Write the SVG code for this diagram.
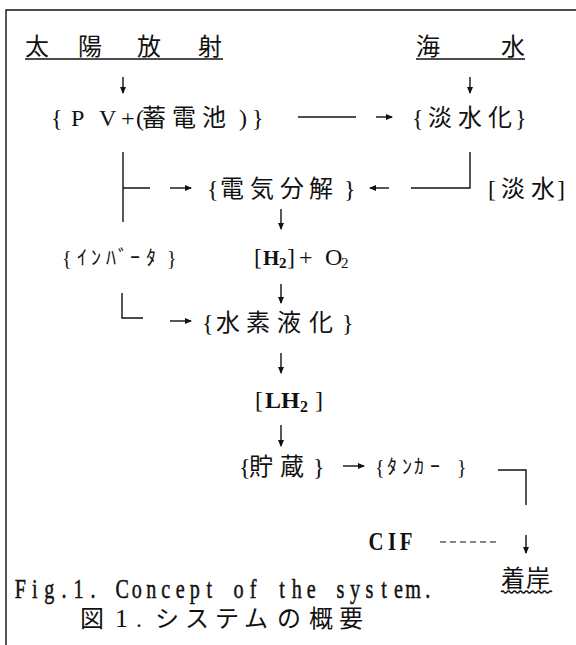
<svg xmlns="http://www.w3.org/2000/svg" width="576" height="645" viewBox="0 0 576 645">
<style>
.t{font-family:"Liberation Serif","Noto Sans CJK JP",serif;font-size:24px;fill:#111}
.h{font-family:"Liberation Serif","Noto Sans CJK JP",serif;font-size:20px;fill:#111}
.k{font-family:"Noto Sans CJK JP",sans-serif;font-size:24px;fill:#111}
.c{font-family:"Liberation Serif",serif;fill:#111;text-anchor:middle}
.b{font-weight:bold}
.ln{stroke:#111;stroke-width:1.4;fill:none}
.ar{stroke:#111;stroke-width:1.4;fill:none;marker-end:url(#ah)}
.ds{stroke:#111;stroke-width:1.2;fill:none;stroke-dasharray:6 4}
</style>
<defs>
<marker id="ah" markerWidth="8" markerHeight="8" refX="6" refY="4" orient="auto" markerUnits="userSpaceOnUse">
<path d="M0,1 L7,4 L0,7 Z" fill="#111"/>
</marker>
</defs>
<rect width="576" height="645" fill="#fff"/>
<g id="frame"><path class="ln" d="M6,645 V10 H576" stroke-width="1.6"/></g>

<g id="solar">
<text class="k" x="25 78 137 198" y="55">太陽放射</text>
<path class="ln" d="M25,59 H223"/>
</g>
<g id="seawater">
<text class="k" x="416 501" y="55">海水</text>
<path class="ln" d="M416,59 H525"/>
</g>
<g id="pv"><text class="t" x="51 71 99 121 136 142 172 202 239 252" y="126">{PV+(蓄電池)}</text></g>
<g id="desalination"><text class="t" x="412 428 458 488 515" y="126">{淡水化}</text></g>
<g id="electrolysis"><text class="t" x="207 220 250 280 309 344" y="197">{電気分解}</text></g>
<g id="freshwater"><text class="t" x="488 501 531 557" y="197">[淡水]</text></g>
<g id="inverter"><text class="h" x="62 77 91 106 118 130 146 167" y="265">{ｲﾝﾊﾞｰﾀ}</text></g>
<g id="h2o2"><text class="t" y="265"><tspan x="254">[</tspan><tspan x="263" class="b" font-size="21">H</tspan><tspan x="279" y="268" font-size="15" class="b">2</tspan><tspan x="287" y="265">]</tspan><tspan x="299">+</tspan><tspan x="325">O</tspan><tspan x="341" y="268" font-size="15">2</tspan></text></g>
<g id="liquefaction"><text class="t" x="202 216 246 277 309 342" y="331">{水素液化}</text></g>
<g id="lh2"><text class="t" y="408"><tspan x="255">[</tspan><tspan x="265" class="b">L</tspan><tspan x="281" class="b">H</tspan><tspan x="300" y="412" font-size="16" class="b">2</tspan><tspan x="315" y="408">]</tspan></text></g>
<g id="storage"><text class="t" x="239 249 280 313" y="475">{貯蔵}</text></g>
<g id="tanker"><text class="h" x="375 387 402 414 430 457" y="474">{ﾀﾝｶｰ}</text></g>
<g id="cif"><text class="c b" transform="translate(0,550) scale(0.8,1)" x="470 490 507.5" y="0" font-size="26">CIF</text></g>
<g id="landing">
<text class="k" x="501 526" y="587" font-size="25">着岸</text>
<path class="ln" stroke-width="1" d="M501,592 q1.5,-2 3,0 t3,0 t3,0 t3,0 t3,0 t3,0 t3,0 t3,0 t3,0 t3,0 t3,0 t3,0 t3,0 t3,0 t3,0 t3,0 t3,0"/>
</g>
<g id="caption">
<text class="c" transform="translate(13,598) scale(0.72,1)" font-size="28" stroke="#111" stroke-width="0.5" y="0" x="10.10 30.31 50.52 70.73 90.94 111.15 131.35 151.56 171.77 191.98 212.19 232.40 252.60 272.81 293.02 313.23 333.44 353.65 373.85 394.06 414.27 434.48 454.69 474.90 495.10 515.31 535.52 555.73 575.94">Fig.1. Concept of the system.</text>
<text class="t" y="627"><tspan x="80">図</tspan><tspan x="115" font-size="26">1</tspan><tspan x="136">.</tspan><tspan x="155 185 215 244 277 309 339">システムの概要</tspan></text>
</g>

<g id="connectors">
<path class="ar" d="M123,77 V93"/>
<path class="ar" d="M470,77 V93"/>
<path class="ln" d="M298,117 H356"/>
<path class="ar" d="M376,117 H392"/>
<path class="ln" d="M123,152 V222 M123,188 H150"/>
<path class="ar" d="M170,188 H191"/>
<path class="ln" d="M470,152 V188 H411"/>
<path class="ar" d="M389,188 H370"/>
<path class="ar" d="M281,209 V229"/>
<path class="ar" d="M281,284 V303"/>
<path class="ln" d="M122,293 V318 H143"/>
<path class="ar" d="M170,321 H191"/>
<path class="ar" d="M281,353 V373"/>
<path class="ar" d="M281,425 V446"/>
<path class="ar" d="M343,466 H364"/>
<path class="ln" d="M498,470 H526 V505"/>
<path class="ar" d="M526,535 V553"/>
<path class="ds" d="M440,542 H498"/>
</g>
</svg>
